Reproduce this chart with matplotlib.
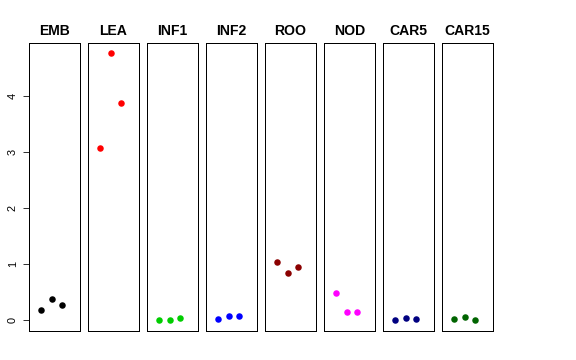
import matplotlib
matplotlib.use("Agg")
import matplotlib.pyplot as plt

plt.rcParams['font.family'] = ['Liberation Sans', 'DejaVu Sans']

tissues = ["EMB", "LEA", "INF1", "INF2", "ROO", "NOD", "CAR5", "CAR15"]
colors = ["#000000", "#FF0000", "#00CD00", "#0000FF", "#8B0000", "#FF00FF", "#000080", "#006400"]
replicates = [1, 2, 3]
values = {
    "EMB":   [0.19, 0.38, 0.27],
    "LEA":   [3.07, 4.75, 3.86],
    "INF1":  [0.00, 0.00, 0.05],
    "INF2":  [0.03, 0.07, 0.07],
    "ROO":   [1.03, 0.85, 0.94],
    "NOD":   [0.49, 0.14, 0.14],
    "CAR5":  [0.00, 0.05, 0.02],
    "CAR15": [0.02, 0.06, 0.00],
}
yticks = [0, 1, 2, 3, 4]

W, H = 576, 360
fig = plt.figure(figsize=(W / 72, H / 72), dpi=72)

allv = [v for t in tissues for v in values[t]]
lo, hi = min(allv), max(allv)
pad = 0.04 * (hi - lo)
ylim = (lo - pad, hi + pad)

for i, (t, c) in enumerate(zip(tissues, colors)):
    left = (29 + 59 * i) / W
    ax = fig.add_axes([left, 1 - 331 / H, 51 / W, (331 - 42.7) / H])
    ax.plot(replicates, values[t], 'o', color=c, ms=6.5, mec='none')
    ax.set_xlim(-0.13, 4.69)
    ax.set_ylim(*ylim)
    ax.set_xticks([])
    for s in ax.spines.values():
        s.set_linewidth(1.0)
        s.set_color('#000000')
    ax.set_title(t, fontsize=14, fontweight='bold', pad=8)
    if i == 0:
        ax.set_yticks(yticks)
        ax.set_yticklabels([str(v) for v in yticks], rotation=90, va='center', fontsize=11)
        ax.tick_params(axis='y', length=6, width=0.8, pad=5)
    else:
        ax.set_yticks([])

fig.savefig("out.png", dpi=72)
